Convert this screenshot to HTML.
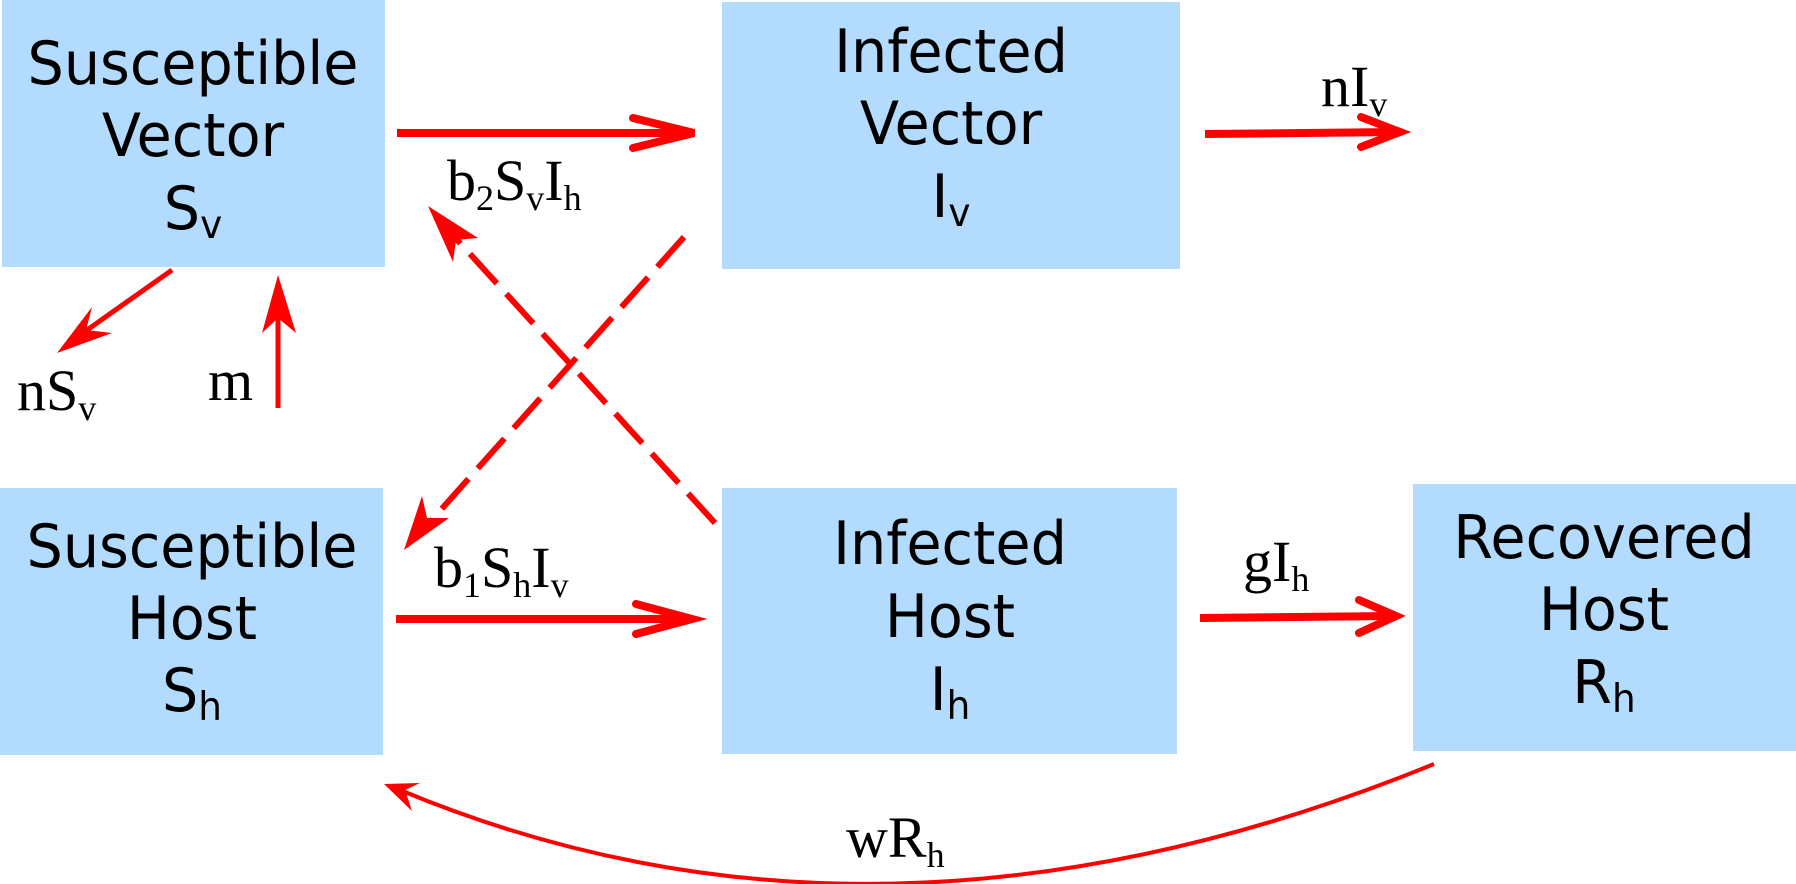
<!DOCTYPE html>
<html><head><meta charset="utf-8"><style>
html,body{margin:0;padding:0;background:#fff;}
svg{display:block}
.b{font-family:"DejaVu Sans","Liberation Sans",sans-serif;font-size:52px;fill:#000;text-anchor:middle}
.s{font-family:"Liberation Serif",serif;font-size:58px;fill:#000}
</style></head><body>
<svg width="1796" height="884" viewBox="0 0 1796 884" xmlns="http://www.w3.org/2000/svg">
<g fill="#b3dbfd">
<rect x="2" y="0" width="383" height="267"/>
<rect x="722" y="2" width="458" height="267"/>
<rect x="0" y="488" width="383" height="267"/>
<rect x="722" y="488" width="455" height="266"/>
<rect x="1413" y="484" width="383" height="267"/>
</g>
<g transform="scale(1.12,1.18)">
</g>
<text class="b" x="193" y="84" transform="translate(193,84) scale(1.1,1.15) translate(-193,-84)">Susceptible</text>
<text class="b" x="193" y="156" transform="translate(193,156) scale(1.1,1.15) translate(-193,-156)">Vector</text>
<text class="b" x="193" y="229" transform="translate(193,229) scale(1.1,1.15) translate(-193,-229)">S<tspan font-size="34" dy="8">v</tspan></text>
<text class="b" x="951" y="72" transform="translate(951,72) scale(1.1,1.15) translate(-951,-72)">Infected</text>
<text class="b" x="951" y="144" transform="translate(951,144) scale(1.1,1.15) translate(-951,-144)">Vector</text>
<text class="b" x="951" y="217" transform="translate(951,217) scale(1.1,1.15) translate(-951,-217)">I<tspan font-size="34" dy="8">v</tspan></text>
<text class="b" x="192" y="567" transform="translate(192,567) scale(1.1,1.15) translate(-192,-567)">Susceptible</text>
<text class="b" x="192" y="639" transform="translate(192,639) scale(1.1,1.15) translate(-192,-639)">Host</text>
<text class="b" x="192" y="711" transform="translate(192,711) scale(1.1,1.15) translate(-192,-711)">S<tspan font-size="34" dy="8">h</tspan></text>
<text class="b" x="950" y="564" transform="translate(950,564) scale(1.1,1.15) translate(-950,-564)">Infected</text>
<text class="b" x="950" y="637" transform="translate(950,637) scale(1.1,1.15) translate(-950,-637)">Host</text>
<text class="b" x="950" y="710" transform="translate(950,710) scale(1.1,1.15) translate(-950,-710)">I<tspan font-size="34" dy="8">h</tspan></text>
<text class="b" x="1604" y="558" transform="translate(1604,558) scale(1.1,1.15) translate(-1604,-558)">Recovered</text>
<text class="b" x="1604" y="630" transform="translate(1604,630) scale(1.1,1.15) translate(-1604,-630)">Host</text>
<text class="b" x="1604" y="703" transform="translate(1604,703) scale(1.1,1.15) translate(-1604,-703)">R<tspan font-size="34" dy="8">h</tspan></text>

<g stroke="#ff0000" fill="none" stroke-width="8" stroke-linecap="round" stroke-linejoin="miter">
<line x1="397" y1="133" x2="692" y2="133" stroke-linecap="butt"/>
<polyline points="633,118 694,133 633,148"/>
<line x1="1205" y1="134" x2="1398" y2="132" stroke-linecap="butt"/>
<polyline points="1361,117 1400,132 1361,147"/>
<line x1="396" y1="619" x2="690" y2="619" stroke-linecap="butt"/>
<polyline points="636,604 692,619 636,634"/>
<line x1="1200" y1="618" x2="1394" y2="616" stroke-linecap="butt"/>
<polyline points="1359,600 1396,616 1359,633"/>
</g>
<g stroke="#ff0000" fill="none" stroke-width="5">
<line x1="172" y1="270" x2="80" y2="335"/>
<line x1="278" y1="408" x2="278" y2="310"/>
<line x1="715" y1="523" x2="450" y2="232" stroke-dasharray="40,14" stroke-width="6"/>
<line x1="684" y1="237" x2="430" y2="522" stroke-dasharray="40,14" stroke-width="6"/>
<path d="M1434,764 Q880,990 400,790" stroke-width="4"/>
</g>
<g fill="#ff0000">
<polygon points="57,353 92,307 86,330 112,333"/>
<polygon points="278,275 296,333 278,318 262,333"/>
<polygon points="428,206 478,238 456,240 453,262"/>
<polygon points="404,550 422,496 427,518 449,518"/>
<polygon points="384,784 420,783 405,790 412,811"/>
</g>
<text class="s" x="447" y="200">b<tspan font-size="36" dy="10">2</tspan><tspan dy="-10">S</tspan><tspan font-size="36" dy="10">v</tspan><tspan dy="-10">I</tspan><tspan font-size="36" dy="10">h</tspan></text>
<text class="s" x="1321" y="106">nI<tspan font-size="36" dy="10">v</tspan></text>
<text class="s" x="434" y="587">b<tspan font-size="36" dy="10">1</tspan><tspan dy="-10">S</tspan><tspan font-size="36" dy="10">h</tspan><tspan dy="-10">I</tspan><tspan font-size="36" dy="10">v</tspan></text>
<text class="s" x="1243" y="581">gI<tspan font-size="36" dy="10">h</tspan></text>
<text class="s" x="17" y="410">nS<tspan font-size="36" dy="10">v</tspan></text>
<text class="s" x="208" y="400">m</text>
<text class="s" x="846" y="857">wR<tspan font-size="36" dy="10">h</tspan></text>
</svg>
</body></html>
